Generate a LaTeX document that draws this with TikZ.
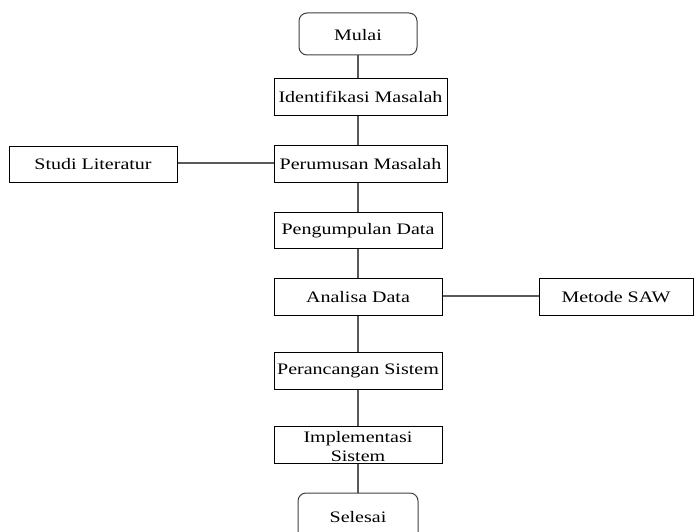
\documentclass[tikz,border=0pt]{standalone}
\usepackage{fontspec}
\setmainfont{Liberation Serif}
\usepackage{graphicx}
\tikzset{
  x=1pt, y=-1pt,
  box/.style={draw=black, line width=0.9pt, fill=white},
  term/.style={draw=black!75, line width=1pt, rounded corners=8pt, fill=white},
  conn/.style={draw=black!65, line width=1.4pt},
  lbl/.style={font=\fontsize{16}{17}\selectfont, inner sep=0pt, align=center},
}
\newcommand{\sx}[1]{\scalebox{1.25}[1]{#1}}
\begin{document}
\begin{tikzpicture}
\useasboundingbox (0,0) rectangle (694,532);
\clip (0,0) rectangle (694,532);
% coordinates of box corners
\coordinate (mulaiNW) at (299,13);  \coordinate (mulaiSE) at (417,55);
\coordinate (idNW) at (274,78);     \coordinate (idSE) at (447,115);
\coordinate (perNW) at (274,145);   \coordinate (perSE) at (447,182);
\coordinate (stNW) at (9,146);      \coordinate (stSE) at (177,182);
\coordinate (pgNW) at (274,212);    \coordinate (pgSE) at (442,248);
\coordinate (anNW) at (274,278);    \coordinate (anSE) at (442,315);
\coordinate (saNW) at (539,278);    \coordinate (saSE) at (693,315);
\coordinate (prNW) at (274,352);    \coordinate (prSE) at (442,389);
\coordinate (imNW) at (274,426);    \coordinate (imSE) at (442,463);
\coordinate (seNW) at (298,493);    \coordinate (seSE) at (418,560);

% connectors
\draw[conn] (358,55) coordinate (m1) -- (358,78) coordinate (i1);
\draw[conn] (358,115) -- (358,145);
\draw[conn] (177,163) coordinate (s1) -- (274,163) coordinate (p1);
\draw[conn] (358,182) -- (358,212);
\draw[conn] (358,248) -- (358,278);
\draw[conn] (442,296) coordinate (a1) -- (539,296) coordinate (a2);
\draw[conn] (358,315) -- (358,352);
\draw[conn] (358,389) -- (358,426);
\draw[conn] (358,463) -- (358,493);

% boxes
\draw[term] (mulaiNW) rectangle (mulaiSE);
\draw[box] (idNW) rectangle (idSE);
\draw[box] (perNW) rectangle (perSE);
\draw[box] (stNW) rectangle (stSE);
\draw[box] (pgNW) rectangle (pgSE);
\draw[box] (anNW) rectangle (anSE);
\draw[box] (saNW) rectangle (saSE);
\draw[box] (prNW) rectangle (prSE);
\draw[box] (imNW) rectangle (imSE);
\draw[term] (seNW) rectangle (seSE);

% labels
\node[lbl] (mulai) at (358,35) {\sx{Mulai}};
\node[lbl] (ident) at (360.5,97) {\sx{Identifikasi Masalah}};
\node[lbl] (perum) at (360.5,164) {\sx{Perumusan Masalah}};
\node[lbl] (studi) at (93,164) {\sx{Studi Literatur}};
\node[lbl] (pengu) at (358,231) {\sx{Pengumpulan Data}};
\node[lbl] (anal) at (358,297) {\sx{Analisa Data}};
\node[lbl] (saw) at (616,297) {\sx{Metode SAW}};
\node[lbl] (peran) at (358,371) {\sx{Perancangan Sistem}};
\node[lbl] (impl) at (358,439) {\sx{Implementasi}};
\node[lbl] (impl2) at (358,456) {\sx{Sistem}};
\node[lbl] (seles) at (358,517) {\sx{Selesai}};
\end{tikzpicture}
\end{document}
